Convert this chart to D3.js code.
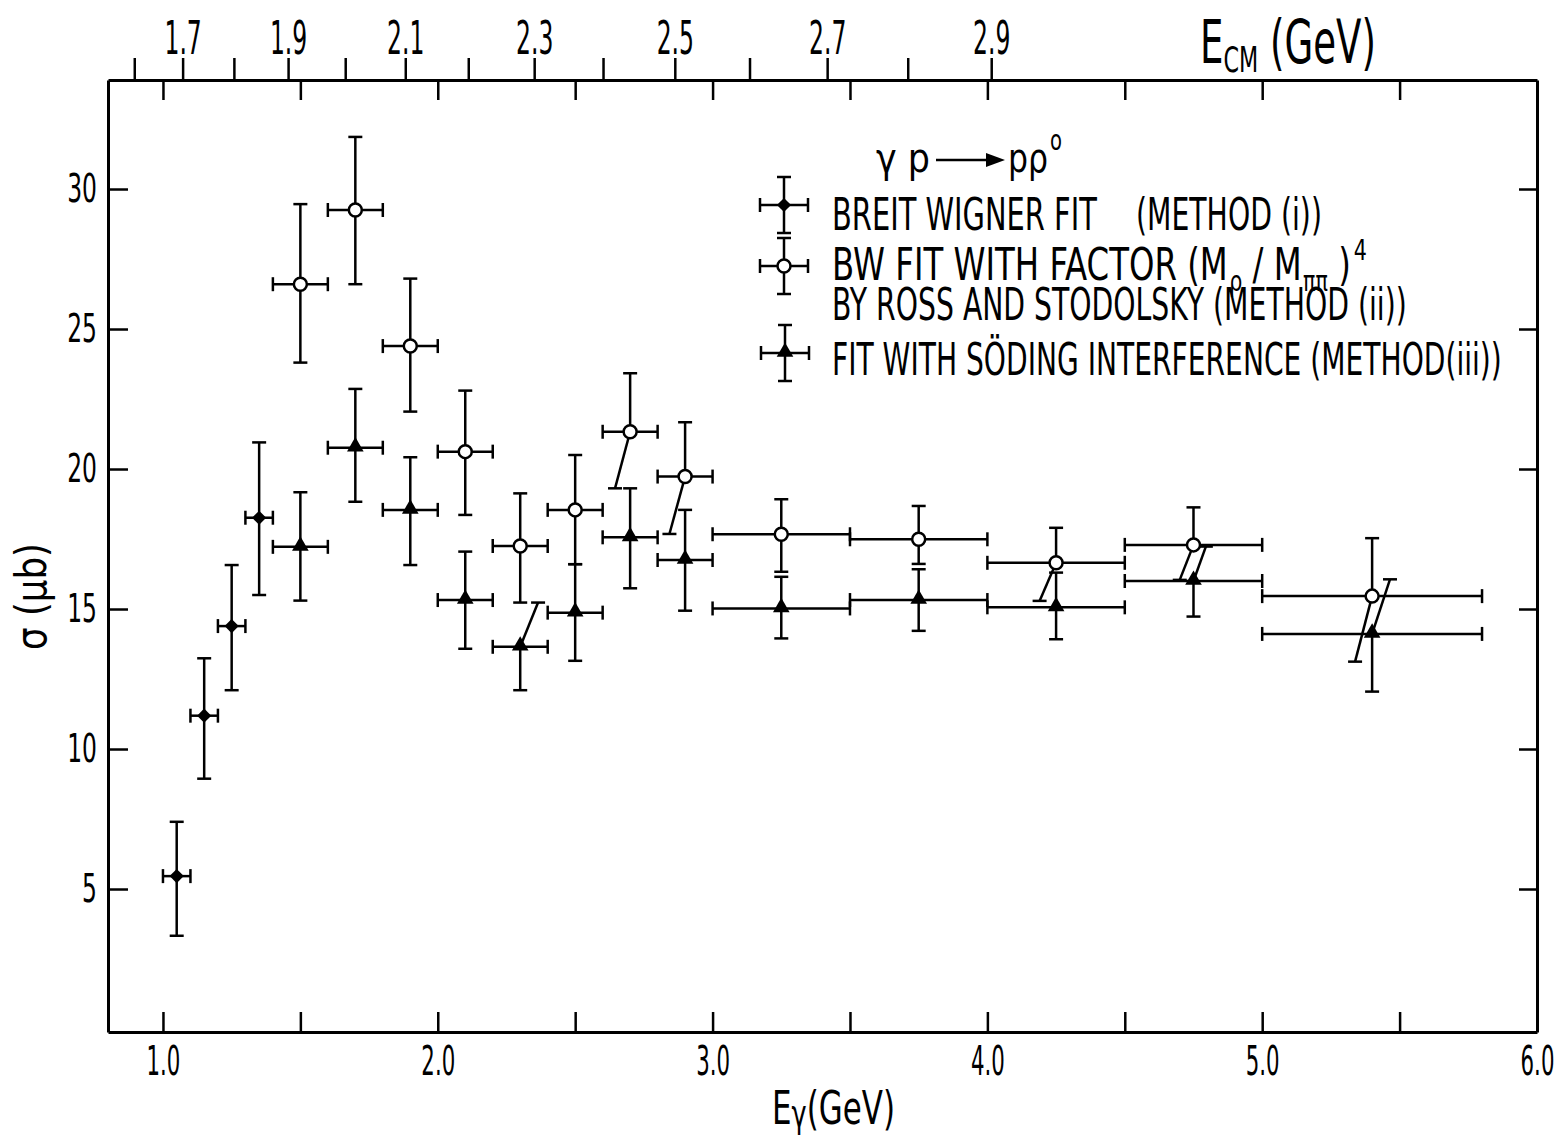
<!DOCTYPE html>
<html>
<head>
<meta charset="utf-8">
<script src="https://cdn.jsdelivr.net/npm/d3@7"></script>
<style>
body { margin: 0; background: #fff; }
svg { display: block; background: #fff; }
text { font-family: "DejaVu Sans", sans-serif; fill: #000; }
</style>
</head>
<body>
<svg id="chart" width="1559" height="1140"></svg>
<script>
// ---- data ----
// method (i): Breit Wigner fit
var bwE   = [1.05, 1.15, 1.25, 1.35];
var bwSig = [5.46, 11.19, 14.39, 18.26];
var bwLo  = [3.33, 8.94, 12.10, 15.50];
var bwHi  = [7.40, 13.24, 16.57, 20.95];
var bwHalf = [0.05, 0.05, 0.05, 0.05];

// method (ii): BW fit with (M_rho/M_pipi)^4 factor
var rsE   = [1.5, 1.7, 1.9, 2.1, 2.3, 2.5, 2.7, 2.9, 3.25, 3.75, 4.25, 4.75, 5.4];
var rsSig = [26.60, 29.25, 24.39, 20.62, 17.25, 18.54, 21.33, 19.73, 17.67, 17.49, 16.65, 17.29, 15.46];
var rsLo  = [23.80, 26.60, 22.05, 18.36, 15.23, 16.60, 19.31, 17.68, 16.33, 16.61, 15.29, 16.04, 13.12];
var rsHi  = [29.46, 31.86, 26.80, 22.80, 19.13, 20.50, 23.42, 21.67, 18.92, 18.68, 17.90, 18.63, 17.53];
var rsHalf = [0.1, 0.1, 0.1, 0.1, 0.1, 0.1, 0.1, 0.1, 0.25, 0.25, 0.25, 0.25, 0.4];
// lower error bars drawn slanted end at this energy (null = straight)
var rsLoEnd = [null, null, null, null, null, null, 2.645, 2.843, null, null, 4.19, 4.70, 5.338];

// method (iii): fit with Soding interference
var sdE   = [1.5, 1.7, 1.9, 2.1, 2.3, 2.5, 2.7, 2.9, 3.25, 3.75, 4.25, 4.75, 5.4];
var sdSig = [17.22, 20.76, 18.54, 15.32, 13.65, 14.87, 17.56, 16.75, 15.02, 15.32, 15.06, 16.00, 14.11];
var sdLo  = [15.30, 18.83, 16.57, 13.58, 12.10, 13.15, 15.74, 14.94, 13.95, 14.22, 13.92, 14.73, 12.05];
var sdHi  = [19.17, 22.86, 20.42, 17.05, 15.23, 16.60, 19.31, 18.54, 16.15, 16.42, 16.30, 17.23, 16.06];
var sdHalf = [0.1, 0.1, 0.1, 0.1, 0.1, 0.1, 0.1, 0.1, 0.25, 0.25, 0.25, 0.25, 0.4];
var sdHiEnd = [null, null, null, null, 2.365, null, null, null, null, null, null, 4.795, 5.465];

// axis ticks
var eTicks = [1.0, 1.5, 2.0, 2.5, 3.0, 3.5, 4.0, 4.5, 5.0, 5.5, 6.0];
var sigTicks = [5, 10, 15, 20, 25, 30];
var ecmTicks = [1.6, 1.7, 1.8, 1.9, 2.0, 2.1, 2.2, 2.3, 2.4, 2.5, 2.6, 2.7, 2.8, 2.9];
var ecmLabels = [1.7, 1.9, 2.1, 2.3, 2.5, 2.7, 2.9];

var Mp = 0.938;
function ecm(e) { return Math.sqrt(Mp * Mp + 2 * Mp * e); }

var svg = d3.select("#chart");
var x = d3.scaleLinear().domain([0.8, 6.0]).range([108, 1537]);
var y = d3.scaleLinear().domain([-0.107, 33.893]).range([1032, 80]);
// E_cm^2 is linear in E_gamma, so a pow(2) scale lines up with x
var xcm = d3.scalePow().exponent(2).domain([ecm(0.8), ecm(6.0)]).range([108, 1537]);

// squeeze tick labels horizontally so they look like the narrow lettering
function squeeze(g, sx, size) {
    g.attr("font-family", null).attr("font-size", size);
    g.selectAll("text").each(function () {
        var t = d3.select(this);
        var ox = +t.attr("x") || 0;
        t.attr("x", ox / sx).attr("transform", "scale(" + sx + ",1)");
    });
}

function styleAxis(g) {
    g.select("path.domain").attr("stroke-width", 3);
    g.selectAll(".tick line").attr("stroke-width", 2.5);
}

// bottom
var gb = svg.append("g").attr("transform", "translate(0,1032)")
    .call(d3.axisBottom(x).tickValues(eTicks).tickSizeInner(-20).tickSizeOuter(0).tickPadding(13)
        .tickFormat(function (d) { return d % 1 === 0 ? d.toFixed(1) : ""; }));
styleAxis(gb);
gb.selectAll("text").attr("dy", "0.73em");
squeeze(gb, 0.52, 41);

// top, E_gamma ticks pointing in
var gt = svg.append("g").attr("transform", "translate(0,80)")
    .call(d3.axisTop(x).tickValues(eTicks.slice(0, 10)).tickSizeInner(-20).tickSizeOuter(0).tickFormat(""));
styleAxis(gt);

// top, E_cm ticks pointing out
var gc = svg.append("g").attr("transform", "translate(0,80)")
    .call(d3.axisTop(xcm).tickValues(ecmTicks).tickSizeInner(22).tickSizeOuter(0).tickPadding(4)
        .tickFormat(function (d) { return ecmLabels.indexOf(d) >= 0 ? d.toFixed(1) : ""; }));
gc.select("path.domain").remove();
gc.selectAll(".tick line").attr("stroke-width", 2.5);
squeeze(gc, 0.5, 47);

// left
var gl = svg.append("g").attr("transform", "translate(108,0)")
    .call(d3.axisLeft(y).tickValues(sigTicks).tickSizeInner(-20).tickSizeOuter(0).tickPadding(11));
styleAxis(gl);
squeeze(gl, 0.6, 39);

// right
var gr = svg.append("g").attr("transform", "translate(1537,0)")
    .call(d3.axisRight(y).tickValues(sigTicks).tickSizeInner(-18).tickSizeOuter(0).tickFormat(""));
styleAxis(gr);

// ---- error bars and markers ----
var CAP = 7;

function rows(E, S, lo, hi, half, loEnd, hiEnd) {
    return E.map(function (e, i) {
        return { e: e, s: S[i], lo: lo[i], hi: hi[i], w: half[i],
                 loE: loEnd ? loEnd[i] : null, hiE: hiEnd ? hiEnd[i] : null };
    });
}

function segments(d) {
    var cx = x(d.e), cy = y(d.s);
    var xl = x(d.e - d.w), xr = x(d.e + d.w);
    var ux = x(d.hiE == null ? d.e : d.hiE), uy = y(d.hi);
    var lx = x(d.loE == null ? d.e : d.loE), ly = y(d.lo);
    return [
        [xl, cy, xr, cy],
        [xl, cy - CAP, xl, cy + CAP],
        [xr, cy - CAP, xr, cy + CAP],
        [cx, cy, ux, uy],
        [ux - CAP, uy, ux + CAP, uy],
        [cx, cy, lx, ly],
        [lx - CAP, ly, lx + CAP, ly]
    ];
}

function marker(sel, kind) {
    if (kind === "circle") {
        sel.append("circle").attr("r", 6.5).attr("fill", "#fff").attr("stroke", "#000").attr("stroke-width", 2.5);
    } else if (kind === "diamond") {
        sel.append("path").attr("d", d3.symbol().type(d3.symbolSquare).size(100)())
            .attr("transform", "rotate(45)").attr("fill", "#000");
    } else {
        sel.append("path").attr("d", d3.symbol().type(d3.symbolTriangle).size(120)())
            .attr("transform", "translate(0,-1)").attr("fill", "#000");
    }
}

function drawSet(data, kind) {
    var g = svg.append("g");
    var pts = g.selectAll("g.pt").data(data).join("g").attr("class", "pt");
    pts.selectAll("line").data(segments).join("line")
        .attr("x1", function (s) { return s[0]; }).attr("y1", function (s) { return s[1]; })
        .attr("x2", function (s) { return s[2]; }).attr("y2", function (s) { return s[3]; })
        .attr("stroke", "#000").attr("stroke-width", 2.5);
    var m = pts.append("g").attr("transform", function (d) { return "translate(" + x(d.e) + "," + y(d.s) + ")"; });
    marker(m, kind);
}

drawSet(rows(sdE, sdSig, sdLo, sdHi, sdHalf, null, sdHiEnd), "triangle");
drawSet(rows(rsE, rsSig, rsLo, rsHi, rsHalf, rsLoEnd, null), "circle");
drawSet(rows(bwE, bwSig, bwLo, bwHi, bwHalf, null, null), "diamond");

// ---- text helper: fit a text (with tspans) into a given width ----
function fitText(x0, y0, w, size, parts, rotate) {
    var g = svg.append("g");
    var t = g.append("text").attr("font-size", size);
    parts.forEach(function (p) {
        var ts = t.append("tspan").text(p.t);
        if (p.size) ts.attr("font-size", p.size);
        if (p.dy) ts.attr("dy", p.dy);
        if (p.dx) ts.attr("dx", p.dx);
    });
    var bb = t.node().getBBox();
    var sx = w / bb.width;
    t.attr("transform", "scale(" + sx + ",1) translate(" + (-bb.x) + ",0)");
    g.attr("transform", "translate(" + x0 + "," + y0 + ")" + (rotate ? " rotate(" + rotate + ")" : ""));
    return g;
}

// axis titles
fitText(772, 1124, 123, 46, [{ t: "E" }, { t: "γ", size: 38, dy: 3 }, { t: "(GeV)", dy: -3, size: 46 }]);
fitText(1200, 63, 176, 60, [{ t: "E" }, { t: "CM", size: 36, dy: 9 }, { t: " (GeV)", size: 60, dy: -9 }]);
fitText(46, 650, 107, 42, [{ t: "σ (μb)" }], -90);

// reaction
fitText(876, 172, 54, 40, [{ t: "γ p" }]);
svg.append("line").attr("x1", 936).attr("y1", 160).attr("x2", 990).attr("y2", 160)
    .attr("stroke", "#000").attr("stroke-width", 2.5);
svg.append("path").attr("d", "M986,153 L1005,160 L986,167 Z").attr("fill", "#000");
fitText(1008, 172, 40, 40, [{ t: "pρ" }]);
fitText(1050, 150, 12, 28, [{ t: "o" }]);

// legend
function legendMarker(cx, cy, kind) {
    var g = svg.append("g");
    var segs = [[cx - 24, cy, cx + 24, cy], [cx - 24, cy - CAP, cx - 24, cy + CAP], [cx + 24, cy - CAP, cx + 24, cy + CAP],
                [cx, cy - 28, cx, cy + 28], [cx - CAP, cy - 28, cx + CAP, cy - 28], [cx - CAP, cy + 28, cx + CAP, cy + 28]];
    g.selectAll("line").data(segs).join("line")
        .attr("x1", function (s) { return s[0]; }).attr("y1", function (s) { return s[1]; })
        .attr("x2", function (s) { return s[2]; }).attr("y2", function (s) { return s[3]; })
        .attr("stroke", "#000").attr("stroke-width", 2.5);
    marker(g.append("g").attr("transform", "translate(" + cx + "," + cy + ")"), kind);
}

legendMarker(784, 205, "diamond");
legendMarker(784, 266, "circle");
legendMarker(785, 353, "triangle");

fitText(832, 230, 265, 44, [{ t: "BREIT WIGNER FIT" }]);
fitText(1136, 230, 186, 44, [{ t: "(METHOD (i))" }]);
fitText(832, 280, 535, 44, [
    { t: "BW FIT WITH FACTOR (M" },
    { t: "ρ", size: 28, dy: 11, dx: 2 },
    { t: " / M", size: 44, dy: -11 },
    { t: "ππ", size: 28, dy: 11, dx: 2 },
    { t: " )", size: 44, dy: -11 },
    { t: "4", size: 28, dy: -20, dx: 4 }
]);
fitText(832, 320, 575, 44, [{ t: "BY ROSS AND STODOLSKY (METHOD (ii))" }]);
fitText(832, 375, 670, 44, [{ t: "FIT WITH SÖDING INTERFERENCE (METHOD(iii))" }]);
</script>
</body>
</html>
